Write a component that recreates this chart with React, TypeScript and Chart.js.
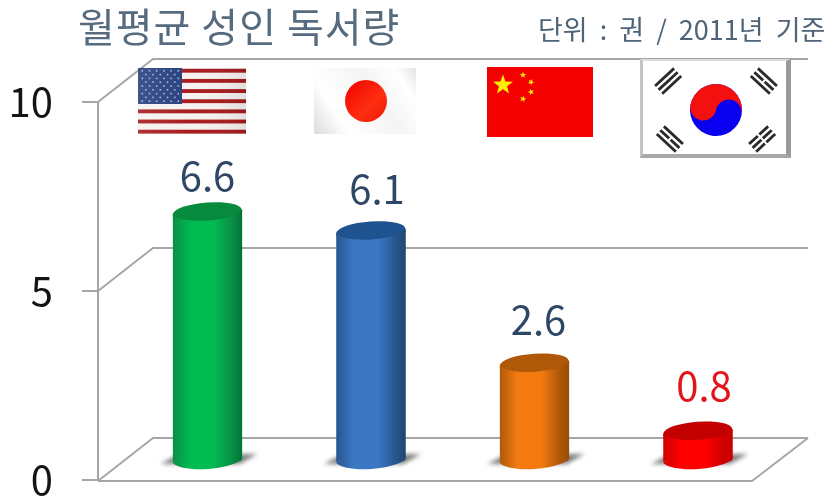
import React, { useEffect, useRef } from "react";
import { Chart, registerables } from "chart.js";

Chart.register(...registerables);

const categories = ["미국", "일본", "중국", "한국"];
const values = [6.6, 6.1, 2.6, 0.8];
const yTicks = [0, 5, 10];
const titleText = "월평균 성인 독서량";
const unitText = "단위 : 권 / 2011년 기준";

const edgeL = ["#0a8f46", "#27568f", "#b05a0a", "#d00000"];
const centers = ["#00ba52", "#3b78c4", "#f47a10", "#ff0000"];
const edgeR = ["#007436", "#21466f", "#9c4c06", "#c80000"];
const capColors = ["#078a3e", "#1f5390", "#ae5808", "#c20000"];
const labelColors = ["#2f4766", "#2f4766", "#2f4766", "#e3141a"];
const labelNudgeX = [0, 6, 4, 6];
const labelNudgeY = [-37, -43, -44, -46];

const DEPTH_X = 55;
const DEPTH_Y = 43;
const BAR_DX = 27.75;
const BAR_DY = 18;
const BAR_W = 69;
const RX = 35;
const RY = 10;
const ROT = -0.07;
const FONT = '"Noto Sans CJK KR", "Noto Sans", sans-serif';
const LINE = "#a6a6a6";

function barGradient(ctx: CanvasRenderingContext2D, cx: number, i: number) {
  const g = ctx.createLinearGradient(cx - BAR_W / 2, 0, cx + BAR_W / 2, 0);
  g.addColorStop(0, edgeL[i]);
  g.addColorStop(0.25, centers[i]);
  g.addColorStop(0.6, centers[i]);
  g.addColorStop(0.85, edgeL[i]);
  g.addColorStop(1, edgeR[i]);
  return g;
}

function cylinderPath(ctx: CanvasRenderingContext2D, cx: number, top: number, base: number) {
  ctx.moveTo(cx + RX * Math.cos(ROT), base + RX * Math.sin(ROT));
  ctx.ellipse(cx, base, RX, RY, ROT, 0, Math.PI);
  ctx.ellipse(cx, top, RX, RY, ROT, Math.PI, 2 * Math.PI);
  ctx.closePath();
}

function line(ctx: CanvasRenderingContext2D, pts: number[][], close = false) {
  ctx.beginPath();
  pts.forEach((p, i) => (i ? ctx.lineTo(p[0], p[1]) : ctx.moveTo(p[0], p[1])));
  if (close) ctx.closePath();
  ctx.stroke();
}

function drawUS(ctx: CanvasRenderingContext2D) {
  const x = 138, y = 68, w = 108, h = 66, s = h / 13;
  ctx.fillStyle = "#f6f2f2";
  ctx.fillRect(x, y, w, h);
  ctx.fillStyle = "#a81c1e";
  for (let i = 0; i < 13; i += 2) ctx.fillRect(x, y + i * s + 0.8, w, s - 1.2);
  const cw = 44, ch = 36;
  ctx.fillStyle = "#27427f";
  ctx.fillRect(x, y, cw, ch);
  ctx.fillStyle = "#a9b6d2";
  for (let r = 0; r < 9; r++) {
    const n = r % 2 ? 5 : 6;
    for (let c = 0; c < n; c++) {
      const px = x + 3.5 + (r % 2 ? 3.6 : 0) + c * 7.2;
      ctx.fillRect(px, y + 2 + r * 3.8, 1.6, 1.6);
    }
  }
  const sheen = ctx.createLinearGradient(x, 0, x + w, 0);
  sheen.addColorStop(0, "rgba(255,255,255,0.1)");
  sheen.addColorStop(0.5, "rgba(255,255,255,0)");
  sheen.addColorStop(1, "rgba(0,0,0,0.08)");
  ctx.fillStyle = sheen;
  ctx.fillRect(x, y, w, h);
}

function drawJapan(ctx: CanvasRenderingContext2D) {
  const x = 314, y = 68, w = 102, h = 66;
  const g = ctx.createLinearGradient(x, y + h, x + w, y);
  g.addColorStop(0, "#dcdcdc");
  g.addColorStop(0.25, "#ffffff");
  g.addColorStop(0.6, "#f4f4f4");
  g.addColorStop(0.85, "#ffffff");
  g.addColorStop(1, "#e4e4e4");
  ctx.fillStyle = g;
  ctx.fillRect(x, y, w, h);
  const r = ctx.createLinearGradient(345, 80, 387, 122);
  r.addColorStop(0, "#f00000");
  r.addColorStop(0.6, "#ff2e10");
  r.addColorStop(1, "#ee1a08");
  ctx.fillStyle = r;
  ctx.beginPath();
  ctx.arc(366, 101, 21, 0, Math.PI * 2);
  ctx.fill();
}

function star(ctx: CanvasRenderingContext2D, cx: number, cy: number, r: number, rot = 0) {
  ctx.beginPath();
  for (let i = 0; i < 10; i++) {
    const a = -Math.PI / 2 + rot + (i * Math.PI) / 5;
    const q = i % 2 ? r * 0.4 : r;
    ctx.lineTo(cx + q * Math.cos(a), cy + q * Math.sin(a));
  }
  ctx.closePath();
  ctx.fill();
}

function drawChina(ctx: CanvasRenderingContext2D) {
  ctx.fillStyle = "#f40000";
  ctx.fillRect(487, 67, 106, 70);
  ctx.fillStyle = "#ffee00";
  star(ctx, 503, 85, 10.5);
  [[523, 75], [531, 82], [531, 92], [523, 99]].forEach((p, i) => star(ctx, p[0], p[1], 3.4, i * 0.5));
}

function trigram(ctx: CanvasRenderingContext2D, cx: number, cy: number, ang: number, breaks: boolean[]) {
  ctx.save();
  ctx.translate(cx, cy);
  ctx.rotate(ang);
  ctx.fillStyle = "#2a2a2a";
  breaks.forEach((b, i) => {
    const yy = -6.5 + i * 5.2 - 1.4;
    if (b) {
      ctx.fillRect(-13, yy, 12, 2.8);
      ctx.fillRect(1, yy, 12, 2.8);
    } else ctx.fillRect(-13, yy, 26, 2.8);
  });
  ctx.restore();
}

function drawKorea(ctx: CanvasRenderingContext2D) {
  const x = 640, y = 59, w = 151, h = 99;
  ctx.fillStyle = "#c4c4c4";
  ctx.fillRect(x, y, w, h);
  ctx.fillStyle = "#dcdcdc";
  ctx.beginPath();
  ctx.moveTo(x, y); ctx.lineTo(x + w, y); ctx.lineTo(x + w - 4, y + 2); ctx.lineTo(x + 3, y + 2);
  ctx.closePath();
  ctx.fill();
  ctx.fillStyle = "#9a9a9a";
  ctx.beginPath();
  ctx.moveTo(x + w, y); ctx.lineTo(x + w, y + h); ctx.lineTo(x + w - 5, y + h - 4); ctx.lineTo(x + w - 5, y + 2);
  ctx.closePath();
  ctx.fill();
  ctx.fillStyle = "#a8a8a8";
  ctx.beginPath();
  ctx.moveTo(x, y + h); ctx.lineTo(x + w, y + h); ctx.lineTo(x + w - 5, y + h - 4); ctx.lineTo(x + 3, y + h - 4);
  ctx.closePath();
  ctx.fill();
  ctx.fillStyle = "#ffffff";
  ctx.fillRect(x + 3, y + 2, w - 8, h - 6);

  trigram(ctx, 669, 82, -Math.PI / 4.2, [false, false, false]);
  trigram(ctx, 763, 82, Math.PI / 4.2, [false, true, false]);
  trigram(ctx, 669, 140, Math.PI / 4.2, [false, true, false]);
  trigram(ctx, 763, 140, -Math.PI / 4.2, [true, true, true]);

  const cx = 716, cy = 110, r = 26;
  ctx.save();
  ctx.translate(cx, cy);
  ctx.rotate(0.2);
  ctx.fillStyle = "#0a00f0";
  ctx.beginPath();
  ctx.arc(0, 0, r, 0, Math.PI * 2);
  ctx.fill();
  ctx.fillStyle = "#f51010";
  ctx.beginPath();
  ctx.arc(0, 0, r, Math.PI, 0);
  ctx.arc(r / 2, 0, r / 2, 0, Math.PI, true);
  ctx.arc(-r / 2, 0, r / 2, 0, Math.PI, false);
  ctx.closePath();
  ctx.fill();
  ctx.restore();
}

const scenePlugin = {
  id: "scene",
  beforeDatasetsDraw(chart: any) {
    const { ctx, scales } = chart;
    const y = scales.y, area = chart.chartArea;
    ctx.save();
    ctx.textBaseline = "middle";
    ctx.textAlign = "left";
    ctx.fillStyle = "#566b7e";
    ctx.font = `40px ${FONT}`;
    ctx.letterSpacing = "1px";
    ctx.fillText(titleText, 78, 27);
    ctx.fillStyle = "#4f6478";
    ctx.font = `27px ${FONT}`;
    ctx.letterSpacing = "0px";
    ctx.wordSpacing = "6px";
    ctx.fillText(unitText, 538, 30);
    ctx.wordSpacing = "0px";

    ctx.strokeStyle = LINE;
    ctx.lineWidth = 2;
    yTicks.forEach((t) => {
      const py = y.getPixelForValue(t);
      const front = t === 0 ? py + 1 : py;
      line(ctx, [[area.left, front], [area.left + DEPTH_X, front - DEPTH_Y], [808, front - DEPTH_Y]]);
    });
    const fy = y.getPixelForValue(0) + 1;
    line(ctx, [[808, fy - DEPTH_Y], [area.right, fy], [area.left, fy]]);

    ctx.filter = "blur(0.6px)";
    drawUS(ctx);
    drawJapan(ctx);
    drawChina(ctx);
    drawKorea(ctx);

    const meta = chart.getDatasetMeta(0);
    const base = y.getPixelForValue(0) - BAR_DY - 2;
    ctx.filter = "blur(2px)";
    ctx.fillStyle = "rgba(40,40,40,0.6)";
    meta.data.forEach((el: any) => {
      const cx = el.x + BAR_DX;
      ctx.beginPath();
      ctx.moveTo(cx - 47, base + 4);
      ctx.lineTo(cx - 30, base - 5);
      ctx.lineTo(cx + 50, base - 6);
      ctx.lineTo(cx + 32, base + 4);
      ctx.closePath();
      ctx.fill();
    });
    ctx.filter = "none";
    ctx.restore();
  },
  beforeDatasetDraw(chart: any) {
    const { ctx, scales } = chart;
    const meta = chart.getDatasetMeta(0);
    const base = scales.y.getPixelForValue(0) - BAR_DY - 2;
    ctx.save();
    ctx.beginPath();
    meta.data.forEach((el: any) => cylinderPath(ctx, el.x + BAR_DX, el.y - BAR_DY, base));
    ctx.clip();
    ctx.translate(BAR_DX, -BAR_DY);
  },
  afterDatasetDraw(chart: any) {
    const { ctx, scales } = chart;
    ctx.restore();
    const meta = chart.getDatasetMeta(0);
    const base = scales.y.getPixelForValue(0) - BAR_DY - 2;
    ctx.save();
    meta.data.forEach((el: any, i: number) => {
      const cx = el.x + BAR_DX;
      const top = el.y - BAR_DY;
      ctx.fillStyle = barGradient(ctx, cx, i);
      ctx.beginPath();
      ctx.ellipse(cx, base - 1, RX, RY, ROT, 0, Math.PI);
      ctx.closePath();
      ctx.fill();
      ctx.fillStyle = barGradient(ctx, cx, i);
      ctx.beginPath();
      ctx.ellipse(cx, top + 1, RX, RY, ROT, 0, Math.PI * 2);
      ctx.fill();
      ctx.fillStyle = capColors[i];
      ctx.beginPath();
      ctx.ellipse(cx, top - 1, RX - 1, RY - 1, ROT, 0, Math.PI * 2);
      ctx.fill();
      ctx.fillStyle = labelColors[i];
      ctx.font = `40px ${FONT}`;
      ctx.textAlign = "center";
      ctx.textBaseline = "middle";
      ctx.fillText(values[i].toFixed(1), cx + labelNudgeX[i], top + labelNudgeY[i]);
    });
    ctx.restore();
  },
};

export default function App() {
  const ref = useRef<HTMLCanvasElement>(null);
  useEffect(() => {
    const chart = new Chart(ref.current as HTMLCanvasElement, {
      type: "bar",
      data: {
        labels: categories,
        datasets: [
          {
            data: values,
            barThickness: BAR_W,
            clip: false,
            borderWidth: 0,
            backgroundColor: (c: any) => {
              const x = c.chart.scales.x;
              const px = x ? x.getPixelForValue(c.dataIndex) : NaN;
              if (!Number.isFinite(px)) return centers[c.dataIndex] ?? centers[0];
              return barGradient(c.chart.ctx, px, c.dataIndex);
            },
          } as any,
        ],
      },
      options: {
        responsive: false,
        maintainAspectRatio: false,
        animation: false,
        layout: { padding: { left: 0, right: 80, top: 102, bottom: 20 } },
        plugins: { legend: { display: false }, tooltip: { enabled: false }, title: { display: false } },
        scales: {
          x: { display: false },
          y: {
            min: 0,
            max: 10,
            afterFit: (s: any) => {
              s.width = 98;
              s.paddingTop = 0;
              s.paddingBottom = 0;
            },
            afterBuildTicks: (s: any) => {
              s.ticks = yTicks.map((value) => ({ value }));
            },
            border: { display: true, color: LINE, width: 2 },
            grid: { drawOnChartArea: false, drawTicks: true, tickLength: 16, color: LINE, lineWidth: 2 },
            ticks: {
              padding: 29,
              color: "#141414",
              font: { family: FONT, size: 40 },
            },
          },
        },
      },
      plugins: [scenePlugin],
    } as any);
    return () => chart.destroy();
  }, []);
  return (
    <div style={{ position: "absolute", left: 0, top: 0, width: 832, height: 500, background: "#fff" }}>
      <canvas ref={ref} width={832} height={500} style={{ display: "block" }} />
    </div>
  );
}
